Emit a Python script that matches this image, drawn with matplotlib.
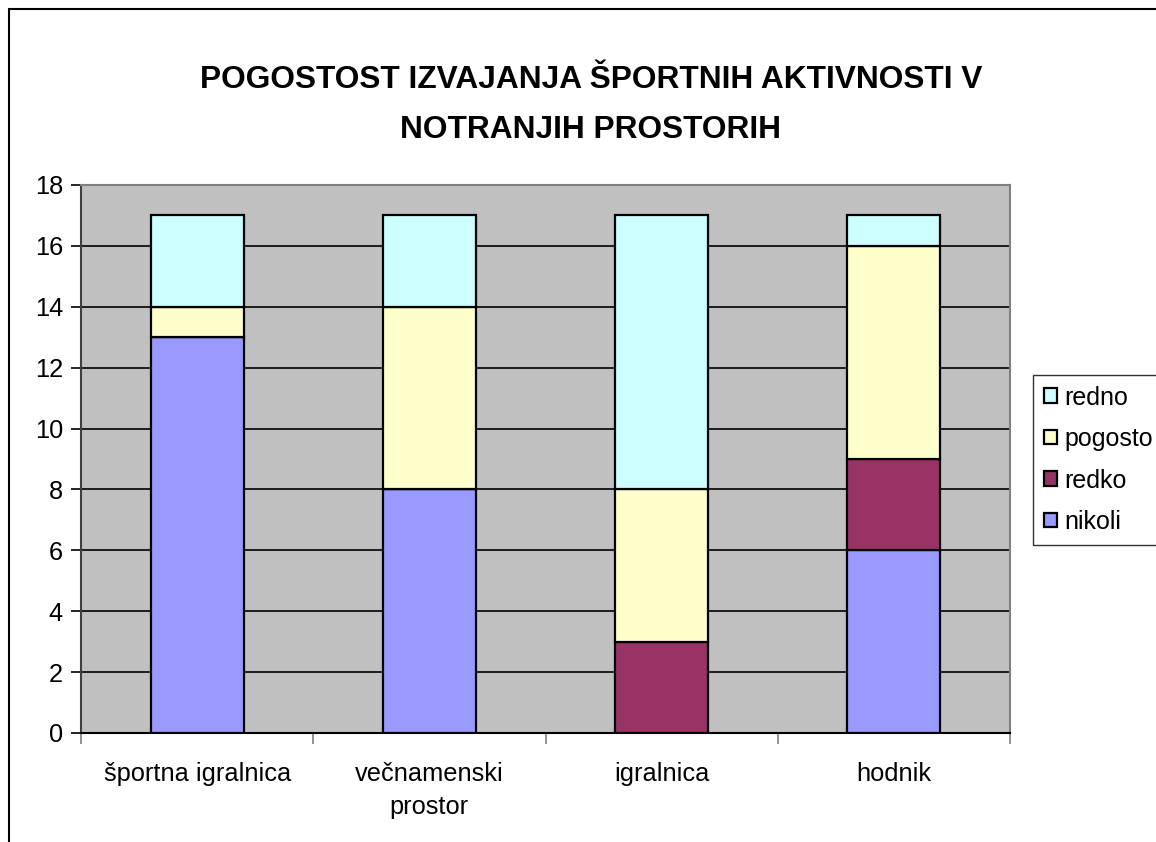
import numpy as np
import matplotlib
matplotlib.use('Agg')
import matplotlib.pyplot as plt
from matplotlib.patches import Rectangle

plt.rcParams['font.family'] = ['Liberation Sans', 'DejaVu Sans']

categories = ['športna igralnica', 'večnamenski\nprostor', 'igralnica', 'hodnik']
series = ['nikoli', 'redko', 'pogosto', 'redno']
nikoli = [13, 8, 0, 6]
redko = [0, 0, 3, 3]
pogosto = [1, 6, 5, 7]
redno = [3, 3, 9, 1]
colors = ['#9999FF', '#993366', '#FFFFCC', '#CCFFFF']
title = 'POGOSTOST IZVAJANJA ŠPORTNIH AKTIVNOSTI V\nNOTRANJIH PROSTORIH'

fig = plt.figure(figsize=(11.56, 8.42), dpi=100)
ax = fig.add_axes([81/1156, 1-733/842, 929/1156, 548/842])
ax.set_facecolor('#C0C0C0')

x = np.arange(len(categories))
bottom = np.zeros(len(categories))
handles = []
for name, vals, c in zip(series, [nikoli, redko, pogosto, redno], colors):
    vals = np.array(vals, dtype=float)
    h = ax.bar(x, vals, 0.4, bottom=bottom, color=c, edgecolor='black',
               linewidth=1.6, label=name, zorder=3)
    handles.append(h)
    bottom += vals

ax.set_ylim(0, 18)
ax.set_xlim(-0.5, 3.5)
ax.set_yticks(np.arange(0, 19, 2))
ax.yaxis.grid(True, color='black', linewidth=1.2, zorder=1)
ax.set_axisbelow(True)

ax.set_xticks(x)
ax.set_xticklabels(categories, fontsize=18.3, linespacing=1.45)
ax.tick_params(axis='x', length=0, pad=21)
ax.set_xticks(np.arange(-0.5, 4, 1), minor=True)
ax.tick_params(axis='x', which='minor', length=8, width=1.2, color='#808080')
ax.tick_params(axis='y', length=7, width=1.2, labelsize=18.3, pad=6)

for s in ['top', 'right']:
    ax.spines[s].set_color('#808080')
    ax.spines[s].set_linewidth(1.5)
ax.spines['left'].set_color('#404040')
ax.spines['left'].set_linewidth(1.5)
ax.spines['bottom'].set_color('black')
ax.spines['bottom'].set_linewidth(1.5)

fig.text(591/1156, 1-105/842, title, ha='center', va='center', fontsize=22.8,
         fontweight='bold', linespacing=1.85)

leg = fig.legend(handles[::-1], series[::-1], loc='upper left',
                 bbox_to_anchor=(1033/1156, 1-375/842), fontsize=18,
                 frameon=True, fancybox=False, edgecolor='black',
                 handlelength=0.52, handleheight=0.52, handletextpad=0.3,
                 labelspacing=0.7, borderpad=0.42, borderaxespad=0)
leg.get_frame().set_linewidth(1.0)
for p in leg.get_patches():
    p.set_edgecolor('black')

fig.patches.append(Rectangle((9/1156, -0.1), 1.2, 1 - 9/842 + 0.1,
                             transform=fig.transFigure, fill=False,
                             edgecolor='black', linewidth=1.5))

fig.savefig('out.png', dpi=100)
